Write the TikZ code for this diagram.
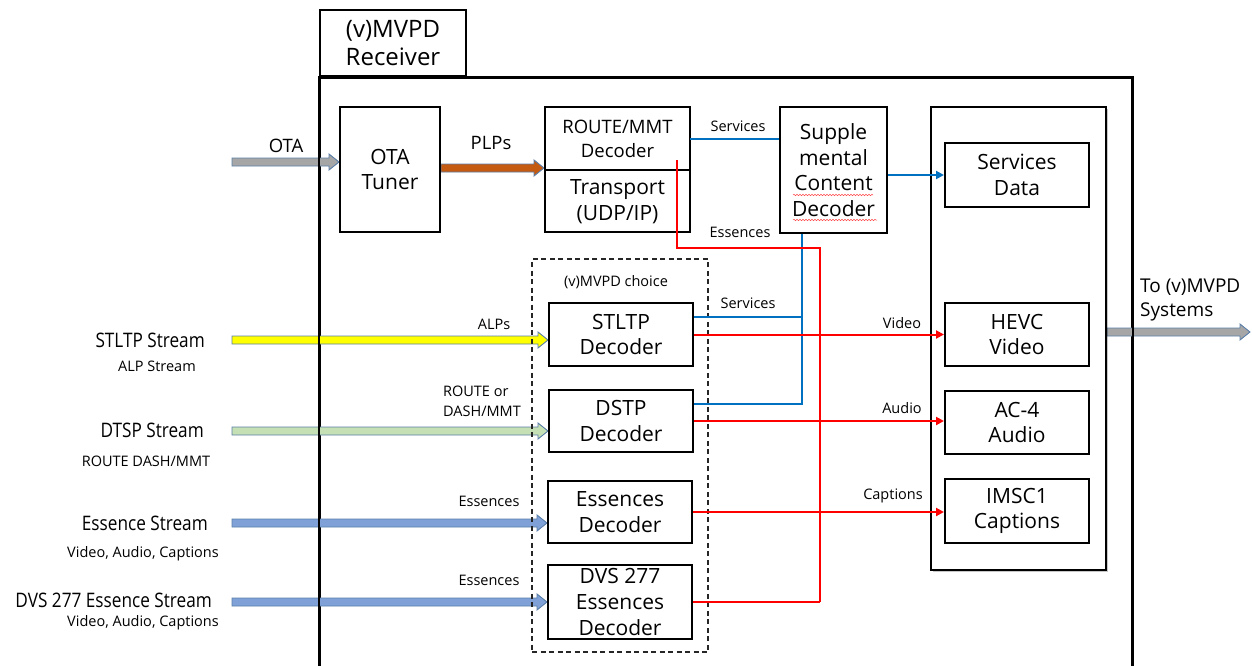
\documentclass[tikz,border=0pt]{standalone}
\usepackage{fontspec}
\setmainfont{Open Sans}
\newfontfamily\narrowfam{Open Sans}[FakeStretch=0.86]
\usetikzlibrary{calc,shadows,arrows.meta,decorations.pathmorphing}
\definecolor{svcblue}{HTML}{0070C0}
\definecolor{essred}{HTML}{FF0000}
\definecolor{edgeblue}{HTML}{5B7FA8}
\definecolor{otagray}{HTML}{A6A6A6}
\definecolor{plpbrown}{HTML}{C55A11}
\definecolor{alpyellow}{HTML}{FFFF00}
\definecolor{dtspgreen}{HTML}{C5E0B4}
\definecolor{essfill}{HTML}{7FA1D8}
\pgfdeclarelayer{back}\pgfdeclarelayer{mid}\pgfsetlayers{back,mid,main}
\newcommand\fbig{\fontsize{21}{25.5}\selectfont}
\newcommand\fleft{\narrowfam\fontsize{20}{25}\selectfont}
\newcommand\ftitle{\fontsize{24}{28}\selectfont}
\newcommand\fmid{\fontsize{18.5}{24}\selectfont}
\newcommand\fsmall{\fontsize{14.5}{20}\selectfont}
% block arrow: fill colour, start coordinate, end coordinate (horizontal)
\newcommand\blockarrow[3]{%
  \draw[blockedge, fill=#1] ($(#2)+(0,-4)$) -- ($(#3)+(-10,-4)$) -- ($(#3)+(-10,-8)$)
    -- (#3) -- ($(#3)+(-10,8)$) -- ($(#3)+(-10,4)$) -- ($(#2)+(0,4)$) -- cycle;}
\begin{document}
\begin{tikzpicture}[x=1pt,y=-1pt,
  box/.style={draw=black, line width=2pt, fill=white, align=center, inner sep=0pt, font=\fbig},
  shade/.style={drop shadow={shadow xshift=2pt,shadow yshift=-2pt,opacity=0.22,fill=black}},
  lbl/.style={font=\fsmall, inner sep=0pt, align=center},
  svc/.style={draw=svcblue, line width=2pt},
  ess/.style={draw=essred, line width=2pt},
  tip/.style={-{Triangle[length=8pt,width=8pt]}},
  blockedge/.style={draw=edgeblue, line width=0.9pt, line join=miter},
  spell/.style={draw=red!70, line width=0.5pt, decorate, decoration={snake, segment length=3pt, amplitude=0.7pt}},
]
\useasboundingbox (0,0) rectangle (1252,666);

% receiver frame and its title tab
\begin{pgfonlayer}{back}
\node[box, shade, minimum width=812pt, minimum height=640pt, anchor=north west] (recv) at (319,77) {};
\end{pgfonlayer}
\draw[line width=2pt] (recv.north west) rectangle (recv.south east);
\node[box, font=\ftitle, minimum width=146pt, minimum height=66pt, anchor=south west] (title) at (recv.north west) {(v)MVPD\\Receiver};

% tuner and transport
\node[box, minimum width=100pt, minimum height=125pt] (tuner) at (390,169.5) {OTA\\Tuner};
\node[box, minimum width=145pt, minimum height=125pt] (route) at (617.5,169.5) {};
\draw[line width=2pt] (route.west) -- (route.east);
\node[font=\fmid, align=center, inner sep=0pt] (routetxt) at ($(route.center)+(0,-30.5)$) {ROUTE/MMT\\Decoder};
\node[font=\fbig, align=center, inner sep=0pt] (transtxt) at ($(route.center)+(0,32)$) {Transport\\(UDP/IP)};
\node[box, minimum width=107pt, minimum height=126pt] (supp) at (833.5,170) {Supple\\mental\\Content\\Decoder};
\draw[spell] (793,195) -- (873,195);
\draw[spell] (793,220) -- (877,220);

% output section
\node[box, shade, minimum width=175pt, minimum height=463pt] (sink) at (1018.5,338.5) {};
\node[box, minimum width=144pt, minimum height=64pt] (svcdata) at (1017,175) {Services\\Data};
\node[box, minimum width=144pt, minimum height=63pt] (hevc) at (1017,334.5) {HEVC\\Video};
\node[box, minimum width=144pt, minimum height=63pt] (ac4) at (1017,422.5) {AC-4\\Audio};
\node[box, minimum width=144pt, minimum height=64pt] (imsc) at (1017,511) {IMSC1\\Captions};

% (v)MVPD choice group
\node[draw=black!85, line width=2pt, dash pattern=on 5pt off 3.5pt, minimum width=176pt, minimum height=393pt, inner sep=0pt] (choice) at (620,455.5) {};
\node[lbl] (choicetxt) at (616,282) {(v)MVPD choice};
\node[box, minimum width=144pt, minimum height=63pt] (stltp) at (621,334.5) {STLTP\\Decoder};
\node[box, minimum width=144pt, minimum height=62pt] (dstp) at (621,421) {DSTP\\Decoder};
\node[box, minimum width=144pt, minimum height=62pt] (essdec) at (620,512) {Essences\\Decoder};
\node[box, minimum width=144pt, minimum height=74pt, font=\fontsize{21}{26}\selectfont] (dvs) at (620,602) {DVS 277\\Essences\\Decoder};

% input streams
\coordinate (otain) at (232,162);
\coordinate (otaend) at (tuner.west |- otain);
\coordinate (plpin) at ($(tuner.east)+(0,-1.5)$);
\coordinate (plpend) at (route.west |- plpin);
\coordinate (stin) at (232,340);
\coordinate (stend) at (stltp.west |- stin);
\coordinate (dtin) at (232,431);
\coordinate (dtend) at (dstp.west |- dtin);
\coordinate (esin) at (232,523);
\coordinate (esend) at (essdec.west |- esin);
\coordinate (dvin) at (232,602);
\coordinate (dvend) at (dvs.west |- dvin);
\coordinate (outin) at ($(sink.east)+(0,-6.5)$);
\coordinate (outend) at (1250,332);
\begin{pgfonlayer}{mid}
\blockarrow{otagray}{otain}{otaend}
\blockarrow{plpbrown}{plpin}{plpend}
\blockarrow{alpyellow}{stin}{stend}
\blockarrow{dtspgreen}{dtin}{dtend}
\blockarrow{essfill}{esin}{esend}
\blockarrow{essfill}{dvin}{dvend}
\blockarrow{otagray}{outin}{outend}
\end{pgfonlayer}

\node[font=\fmid, inner sep=0pt] (otatxt) at (286,146) {OTA};
\node[font=\fmid, inner sep=0pt] (plptxt) at (491,143) {PLPs};
\node[lbl] (alptxt) at (494,324) {ALPs};
\node[lbl, align=left, anchor=east] (routeor) at (521,401) {ROUTE or\\DASH/MMT};
\node[lbl] (esstxt1) at (489,501) {Essences};
\node[lbl] (esstxt2) at (489,580) {Essences};
\node[font=\fontsize{19}{24}\selectfont, align=left, anchor=west, inner sep=0pt] (totxt) at (1140,300) {To (v)MVPD\\Systems};

\node[font=\fleft, anchor=east, inner sep=0pt] (stname) at (205,340) {STLTP Stream};
\node[lbl] (stsub) at (157,366) {ALP Stream};
\node[font=\fleft, anchor=east, inner sep=0pt] (dtname) at (204,430) {DTSP Stream};
\node[lbl] (dtsub) at (146,461) {ROUTE DASH/MMT};
\node[font=\fleft, anchor=east, inner sep=0pt] (esname) at (208,523) {Essence Stream};
\node[lbl] (essub) at (143,554) {Video, Audio, Captions};
\node[font=\fleft, anchor=east, inner sep=0pt] (dvname) at (212,600) {DVS 277 Essence Stream};
\node[lbl] (dvsub) at (143,623) {Video, Audio, Captions};

% service signalling (blue)
\coordinate (sj) at ($(supp.south)+(-31.5,0)$);
\draw[svc] ($(route.center)+(72.5,-30.5)$) -- (supp.west |- 0,139);
\draw[svc, tip] (supp.east |- svcdata.west) -- (svcdata.west);
\draw[svc] (sj) |- ($(dstp.east)+(0,-17)$);
\draw[svc] ($(stltp.east)+(0,-17.5)$) -| (sj);
\node[lbl] (svctxt1) at (738,126) {Services};
\node[lbl] (svctxt2) at (748,303) {Services};

% essences (red)
\coordinate (rs) at ($(route.center)+(59.5,-9.5)$);
\coordinate (rtop) at (820,248);
\draw[ess] (rs) |- (rtop) -- (rtop |- dvs.east);
\draw[ess] (dvs.east) -- (rtop |- dvs.east);
\draw[ess, tip] (stltp.east) -- (hevc.west);
\draw[ess, tip] (dstp.east) -- (dstp.east -| ac4.west);
\draw[ess, tip] (essdec.east) -- (essdec.east -| imsc.west);
\node[lbl] (esstxt3) at (740,232) {Essences};
\node[lbl] (vidtxt) at (902,323) {Video};
\node[lbl] (audtxt) at (902,408) {Audio};
\node[lbl] (captxt) at (893,496) {Captions};
\end{tikzpicture}
\end{document}
